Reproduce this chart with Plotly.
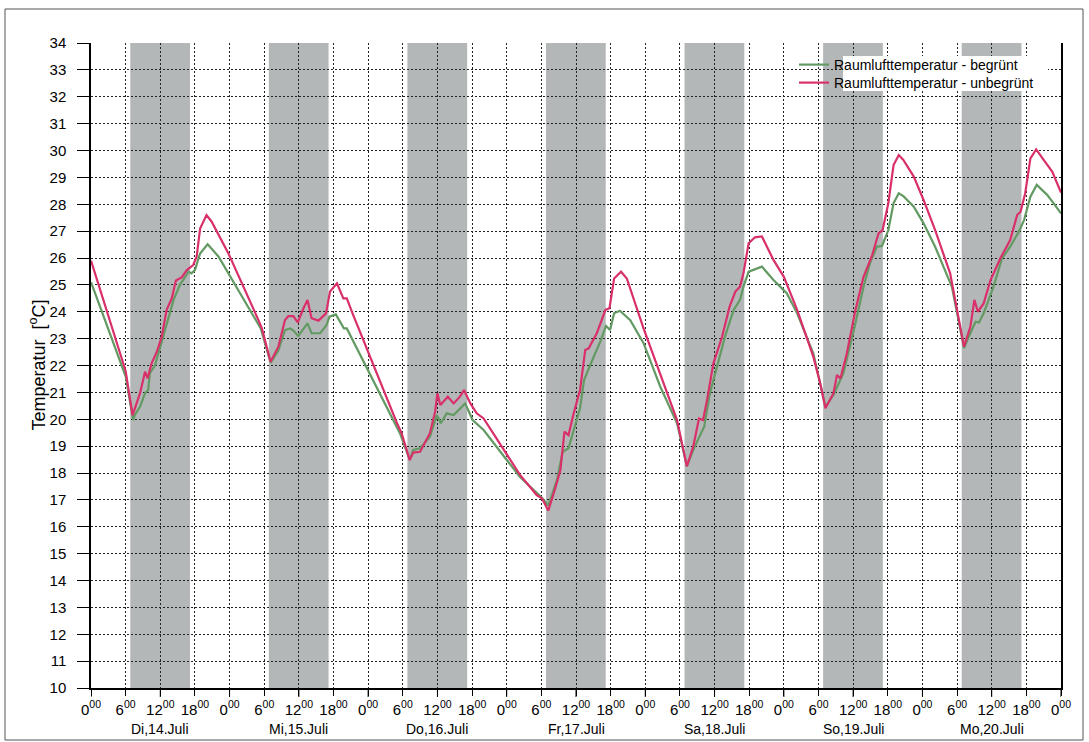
import plotly.graph_objects as go

# ---------------- data ----------------
day_labels = ["Di,14.Juli", "Mi,15.Juli", "Do,16.Juli", "Fr,17.Juli",
              "Sa,18.Juli", "So,19.Juli", "Mo,20.Juli"]
tick_hours = list(range(0, 169, 6))
tick_labels = [f"{h % 24}<sup>00</sup>" for h in tick_hours]
y_ticks = list(range(10, 35))

band_start = [6.8, 30.8, 54.8, 78.8, 102.8, 126.8, 150.8]
band_end = [17.15, 41.15, 65.15, 89.15, 113.15, 137.15, 161.15]

hours_unbegruent = [0, 6.0, 7.2, 8.5, 9.36, 9.8, 10.5, 11.4, 12.25, 13.1, 14.0, 14.7, 15.7, 16.6,
                    17.7, 18.3, 18.9, 20.0, 20.9, 22.35, 23.8, 29.0, 29.6, 31.1, 32.45, 33.6,
                    34.2, 35.05, 35.8, 36.8, 37.5, 38.2, 39.4, 40.7, 41.4, 42.6, 43.7, 44.3,
                    45.4, 53.0, 53.8, 55.2, 55.8, 57.0, 57.9, 58.7, 59.6, 60.0, 60.5, 61.0,
                    61.8, 62.8, 63.9, 64.6, 65.7, 66.8, 68.0, 74.3, 77.2, 78.1, 79.2, 80.4,
                    81.3, 82.0, 82.7, 83.6, 84.7, 85.6, 86.2, 87.6, 89.1, 89.8, 90.6, 91.8,
                    92.8, 95.7, 98.6, 101.5, 103.2, 104.3, 105.3, 106.0, 106.7, 107.8, 109.3,
                    110.6, 111.6, 112.4, 113.0, 113.9, 115.0, 116.2, 118.2, 120.0, 122.3,
                    125.1, 126.3, 127.2, 128.6, 129.2, 129.8, 130.9, 132.4, 133.8, 135.3,
                    136.4, 137.1, 138.1, 139.0, 139.9, 140.7, 142.5, 144.2, 146.2, 148.8,
                    149.7, 150.6, 151.2, 152.3, 153.0, 153.6, 154.6, 155.8, 157.5, 159.2,
                    160.4, 161.0, 161.8, 162.7, 163.7, 165.0, 166.5, 168]
temp_unbegruent = [25.9, 21.8, 20.15, 20.97, 21.77, 21.52, 22.08, 22.51, 23.07, 24.07, 24.5, 25.16,
                   25.28, 25.55, 25.74, 26.05, 27.1, 27.6, 27.35, 26.73, 26.17, 23.69, 23.38,
                   22.14, 22.7, 23.69, 23.84, 23.84, 23.6, 24.13, 24.44, 23.76, 23.67, 23.94,
                   24.75, 25.06, 24.5, 24.5, 23.88, 19.85, 19.48, 18.48, 18.76, 18.79, 19.16,
                   19.48, 20.28, 20.97, 20.53, 20.65, 20.84, 20.59, 20.84, 21.09, 20.59, 20.22,
                   20.03, 17.93, 17.18, 17.06, 16.6, 17.43, 18.11, 19.54, 19.41, 20.22, 21.09,
                   22.58, 22.64, 23.2, 24.07, 24.13, 25.24, 25.49, 25.24, 23.38, 21.71, 19.97,
                   18.25, 18.98, 20.03, 19.97, 20.72, 22.08, 23.07, 24.19, 24.75, 24.93, 25.43,
                   26.55, 26.77, 26.8, 25.93, 25.3, 24.07, 22.33, 21.34, 20.41, 20.97, 21.65,
                   21.52, 22.45, 24.07, 25.3, 26.11, 26.92, 27.04, 28.04, 29.46, 29.83, 29.65,
                   29.03, 28.16, 27.04, 25.43, 24.44, 23.32, 22.7, 23.44, 24.44, 24.0, 24.31,
                   25.18, 25.99, 26.67, 27.6, 27.72, 28.41, 29.71, 30.04, 29.65, 29.21, 28.43]

hours_begruent = [0, 6.0, 7.3, 7.6, 8.5, 9.36, 9.9, 10.2, 11.1, 12.0, 13.1, 14.3, 15.4, 16.9, 17.4,
                  18.0, 18.9, 20.2, 22.1, 29.0, 29.4, 31.1, 32.45, 33.6, 34.5, 35.05, 35.9, 37.5,
                  38.2, 39.7, 40.8, 41.3, 42.4, 43.8, 44.3, 53.5, 55.2, 55.8, 57.0, 58.7, 59.9,
                  60.6, 61.6, 62.8, 64.8, 66.1, 68.0, 74.3, 77.2, 78.0, 79.2, 80.7, 81.7, 82.7,
                  84.7, 85.4, 86.7, 88.2, 89.2, 89.9, 90.6, 91.6, 93.4, 95.7, 98.6, 101.5, 103.2,
                  104.3, 105.5, 106.2, 107.2, 108.4, 109.8, 111.3, 112.4, 113.0, 113.9, 116.2,
                  118.2, 120.5, 122.3, 125.1, 126.3, 127.2, 128.6, 129.5, 130.3, 132.4, 133.8,
                  134.9, 136.1, 137.0, 138.1, 139.0, 139.9, 140.7, 142.5, 144.2, 146.2, 149.1,
                  150.0, 151.2, 152.3, 153.2, 153.8, 154.6, 156.3, 157.8, 159.2, 160.7, 161.6,
                  162.7, 163.8, 165.6, 166.7, 168]
temp_begruent = [25.1, 21.6, 19.97, 20.16, 20.47, 20.97, 21.09, 21.71, 22.02, 22.7, 23.57, 24.44,
                 25.0, 25.49, 25.43, 25.55, 26.17, 26.51, 26.05, 23.57, 23.38, 22.1, 22.56, 23.32,
                 23.38, 23.3, 23.1, 23.57, 23.2, 23.2, 23.51, 23.82, 23.9, 23.38, 23.38, 19.48,
                 18.5, 18.86, 18.92, 19.35, 20.16, 19.85, 20.22, 20.16, 20.59, 19.97, 19.6, 17.85,
                 17.27, 17.1, 16.8, 17.74, 18.79, 18.92, 20.41, 21.46, 22.14, 22.89, 23.47, 23.32,
                 23.94, 24.04, 23.69, 22.83, 21.21, 19.85, 18.25, 18.85, 19.41, 19.72, 20.97,
                 21.96, 23.07, 24.07, 24.44, 24.93, 25.49, 25.68, 25.18, 24.69, 23.94, 22.45,
                 21.34, 20.47, 20.9, 21.34, 21.71, 23.57, 24.93, 25.8, 26.42, 26.45, 27.04,
                 28.04, 28.41, 28.3, 27.91, 27.29, 26.42, 24.93, 23.94, 22.65, 23.2, 23.63, 23.6,
                 23.94, 24.93, 25.99, 26.42, 26.98, 27.41, 28.28, 28.72, 28.35, 28.04, 27.66]

# ---------------- figure ----------------
W, H = 1089, 742
L, R, T, B = 91, 28, 43, 54
pw, ph = W - L - R, H - T - B
FONT = "Liberation Sans, Arial, sans-serif"


def px_x(x):
    return (x - L) / pw


def px_y(y):
    return (H - B - y) / ph


fig = go.Figure()
fig.add_trace(go.Scatter(x=hours_begruent, y=temp_begruent, mode="lines",
                         name="Raumlufttemperatur - begrünt", legend="legend",
                         line=dict(color="#639a63", width=2.2)))
fig.add_trace(go.Scatter(x=hours_unbegruent, y=temp_unbegruent, mode="lines",
                         name="Raumlufttemperatur - unbegrünt", legend="legend2",
                         line=dict(color="#d9306a", width=2.2)))

shapes = []
for s, e in zip(band_start, band_end):
    shapes.append(dict(type="rect", xref="x", yref="y", x0=s, x1=e, y0=10, y1=34,
                       fillcolor="#b4b7b8", line=dict(width=0), layer="below"))
for h in range(0, 169, 12):
    shapes.append(dict(type="line", xref="x", yref="paper", x0=h, x1=h, y0=0, y1=-9 / ph,
                       line=dict(color="black", width=1)))
# white box behind legend text
shapes.append(dict(type="rect", xref="paper", yref="paper",
                   x0=px_x(843), x1=px_x(1048), y0=px_y(91), y1=px_y(56),
                   fillcolor="white", line=dict(width=0), layer="above"))
# outer frame
shapes.append(dict(type="rect", xref="paper", yref="paper",
                   x0=px_x(5), x1=px_x(1083), y0=px_y(740), y1=px_y(9),
                   fillcolor="rgba(0,0,0,0)", line=dict(color="#555", width=1)))

annotations = []
for i, lab in enumerate(day_labels):
    annotations.append(dict(x=i * 24 + 12, y=px_y(729), xref="x", yref="paper",
                            text=lab, showarrow=False, xanchor="center", yanchor="middle",
                            font=dict(family=FONT, size=14, color="black")))
annotations.append(dict(x=px_x(38), y=0.5, xref="paper", yref="paper",
                        text="Temperatur  [<sup>o</sup>C]", textangle=-90, showarrow=False,
                        xanchor="center", yanchor="middle",
                        font=dict(family=FONT, size=18, color="black")))

legend_common = dict(xanchor="left", yanchor="middle", bgcolor="rgba(0,0,0,0)", borderwidth=0,
                     font=dict(family=FONT, size=14, color="black"), itemwidth=30)

fig.update_layout(
    width=W, height=H, margin=dict(l=L, r=R, t=T, b=B, pad=0),
    paper_bgcolor="white", plot_bgcolor="white",
    font=dict(family=FONT, size=14, color="black"),
    shapes=shapes, annotations=annotations,
    showlegend=True,
    legend=dict(x=px_x(794), y=px_y(65), **legend_common),
    legend2=dict(x=px_x(794), y=px_y(83), **legend_common),
    xaxis=dict(range=[0, 168], tickmode="array", tickvals=tick_hours, ticktext=tick_labels,
               ticks="outside", ticklen=6, tickcolor="black", tickwidth=1,
               showline=True, linecolor="black", linewidth=1.5,
               showgrid=True, gridcolor="#222", gridwidth=1, griddash="2px,2px",
               zeroline=False, tickfont=dict(family=FONT, size=15, color="black"),
               ticklabelstandoff=1),
    yaxis=dict(range=[10, 34], tickmode="array", tickvals=y_ticks,
               ticks="outside", ticklen=12, tickcolor="black", tickwidth=1,
               showline=True, linecolor="black", linewidth=1.5, mirror=True,
               showgrid=True, gridcolor="#222", gridwidth=1, griddash="2px,2px",
               zeroline=False, tickfont=dict(family=FONT, size=15, color="black"),
               ticklabelstandoff=8),
)

fig.write_html("out.html", config={"displayModeBar": False},
               post_script="document.body.style.margin='0';")
